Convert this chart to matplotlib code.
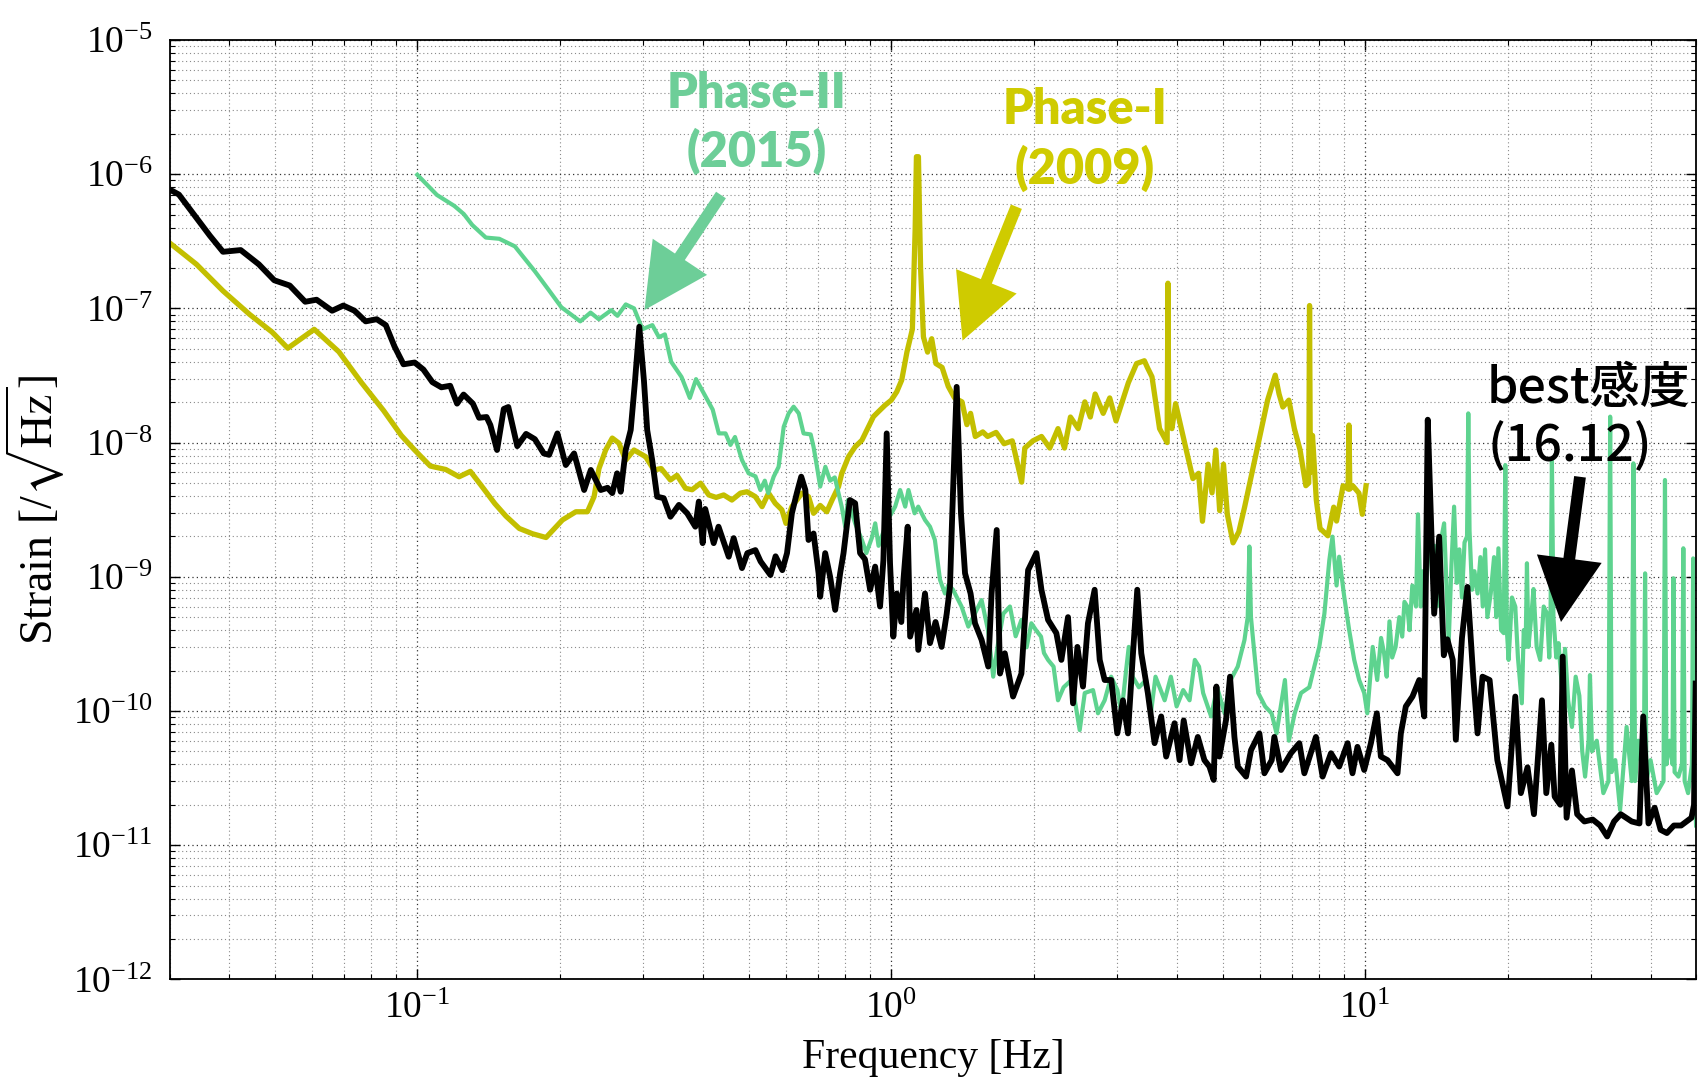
import matplotlib
matplotlib.use('Agg')
import matplotlib.pyplot as plt
from matplotlib.patches import FancyArrowPatch
from matplotlib.ticker import LogLocator, NullFormatter

plt.rcParams['font.family'] = 'Liberation Serif'
plt.rcParams['mathtext.fontset'] = 'stix'
plt.rcParams['axes.unicode_minus'] = False

# best sensitivity (16.12)
best_freq = [
    0.030, 0.0314, 0.0342, 0.0365, 0.0389, 0.0424, 0.0463, 0.0499, 0.0538, 0.058,
    0.0613, 0.0661, 0.0698, 0.0737, 0.0778, 0.0821, 0.0858, 0.0895, 0.0935, 0.0987,
    0.103, 0.1076, 0.1124, 0.1173, 0.1213, 0.1252, 0.131, 0.135, 0.14, 0.1426,
    0.1473, 0.1522, 0.1556, 0.1625, 0.1696, 0.177, 0.1848, 0.1897, 0.1975, 0.2057,
    0.2142, 0.2249, 0.2323, 0.2438, 0.252, 0.2578, 0.264, 0.2686, 0.2752, 0.282,
    0.288, 0.294, 0.3007, 0.3055, 0.313, 0.3206, 0.331, 0.342, 0.3564, 0.371,
    0.386, 0.3926, 0.40, 0.405, 0.422, 0.432, 0.454, 0.465, 0.4842, 0.497,
    0.5168, 0.53, 0.556, 0.57, 0.589, 0.6026, 0.617, 0.632, 0.6457, 0.6587,
    0.669, 0.6855, 0.7025, 0.708, 0.7254, 0.743, 0.7615, 0.78, 0.793, 0.818,
    0.839, 0.8594, 0.88, 0.9024, 0.9247, 0.947, 0.9625, 0.978, 0.994, 1.01,
    1.027, 1.05, 1.061, 1.083, 1.096, 1.13, 1.14, 1.178, 1.207, 1.24,
    1.277, 1.309, 1.33, 1.345, 1.374, 1.403, 1.431, 1.47, 1.502, 1.551,
    1.602, 1.628, 1.669, 1.696, 1.736, 1.807, 1.882, 1.944, 2.024, 2.074,
    2.142, 2.23, 2.285, 2.36, 2.418, 2.47, 2.538, 2.6, 2.686, 2.753,
    2.82, 2.912, 2.998, 3.082, 3.158, 3.236, 3.304, 3.369, 3.478, 3.594,
    3.711, 3.802, 3.96, 4.058, 4.14, 4.292, 4.434, 4.578, 4.691, 4.79,
    4.853, 4.924, 5.086, 5.185, 5.297, 5.383, 5.605, 5.741, 5.98, 6.127,
    6.35, 6.43, 6.643, 6.97, 7.26, 7.44, 7.87, 8.13, 8.467, 8.813,
    9.18, 9.4, 9.63, 9.95, 10.28, 10.58, 10.79, 11.14, 11.7, 11.89,
    12.18, 12.58, 13.0, 13.32, 13.45, 13.55, 13.79, 13.98, 14.32, 14.65,
    14.9, 15.3, 15.53, 16.0, 16.43, 16.9, 17.26, 17.68, 18.3, 19.0,
    19.96, 20.73, 21.3, 22.0, 22.7, 23.6, 24.1, 24.7, 25.1, 25.8,
    26.1, 26.6, 27.3, 28.0, 29.0, 30.2, 31.3, 32.4, 33.5, 34.6,
    36.5, 37.9, 38.6, 39.6, 40.8, 42.0, 43.3, 44.8, 46.4, 48.8,
    49.4, 49.8,
]
best_strain = [
    7.7e-7, 7.05e-7, 4.72e-7, 3.48e-7, 2.64e-7, 2.72e-7, 2.13e-7, 1.62e-7, 1.48e-7, 1.12e-7,
    1.16e-7, 9.6e-8, 1.05e-7, 9.6e-8, 8.0e-8, 8.3e-8, 7.5e-8, 5.2e-8, 3.83e-8, 3.95e-8,
    3.5e-8, 2.82e-8, 2.58e-8, 2.65e-8, 1.95e-8, 2.28e-8, 1.95e-8, 1.53e-8, 1.55e-8, 1.35e-8,
    8.8e-9, 1.78e-8, 1.84e-8, 9.4e-9, 1.16e-8, 1.06e-8, 8.3e-9, 8.1e-9, 1.17e-8, 6.8e-9,
    8.3e-9, 4.43e-9, 6.25e-9, 4.43e-9, 4.6e-9, 4.2e-9, 5.9e-9, 4.3e-9, 8.8e-9, 1.24e-8,
    2.9e-8, 7.3e-8, 2.9e-8, 1.24e-8, 7.4e-9, 3.95e-9, 3.85e-9, 2.8e-9, 3.43e-9, 2.97e-9,
    2.36e-9, 3.63e-9, 1.78e-9, 3.2e-9, 1.78e-9, 2.36e-9, 1.41e-9, 1.94e-9, 1.16e-9, 1.5e-9,
    1.58e-9, 1.3e-9, 1.03e-9, 1.42e-9, 1.12e-9, 1.5e-9, 2.97e-9, 4.2e-9, 5.57e-9, 4.43e-9,
    1.88e-9, 2.1e-9, 1.06e-9, 7.1e-10, 1.5e-9, 1.0e-9, 5.66e-10, 1.06e-9, 1.5e-9, 3.73e-9,
    3.53e-9, 1.5e-9, 1.35e-9, 8.0e-10, 1.19e-9, 6.0e-10, 1.33e-9, 1.17e-8, 1.26e-9, 3.58e-10,
    7.5e-10, 4.6e-10, 9.5e-10, 2.36e-9, 3.58e-10, 5.66e-10, 2.85e-10, 7.5e-10, 3.2e-10, 4.6e-10,
    3.0e-10, 5.3e-10, 8.4e-10, 2.97e-9, 2.6e-8, 2.97e-9, 1.06e-9, 7.5e-10, 4.5e-10, 3.38e-10,
    2.14e-10, 7.5e-10, 2.23e-9, 1.9e-10, 2.69e-10, 1.28e-10, 1.9e-10, 1.12e-9, 1.5e-9, 8.0e-10,
    4.77e-10, 3.8e-10, 2.4e-10, 5.0e-10, 1.14e-10, 3.0e-10, 1.52e-10, 4.5e-10, 8.0e-10, 2.4e-10,
    1.7e-10, 1.7e-10, 6.8e-11, 1.2e-10, 6.8e-11, 2.69e-10, 8.0e-10, 2.69e-10, 1.36e-10, 5.75e-11,
    9.1e-11, 4.57e-11, 8.1e-11, 4.3e-11, 8.5e-11, 4.07e-11, 6.4e-11, 4.3e-11, 3.85e-11, 3.06e-11,
    1.52e-10, 4.57e-11, 8.6e-11, 1.8e-10, 6.4e-11, 3.85e-11, 3.24e-11, 5.1e-11, 6.8e-11, 3.43e-11,
    4.3e-11, 6.4e-11, 3.63e-11, 4.84e-11, 5.75e-11, 3.43e-11, 6.4e-11, 3.24e-11, 4.84e-11, 3.85e-11,
    5.75e-11, 3.43e-11, 5.4e-11, 3.63e-11, 5.75e-11, 9.6e-11, 4.57e-11, 4.3e-11, 3.43e-11, 6.8e-11,
    1.08e-10, 1.28e-10, 1.7e-10, 9.1e-11, 1.7e-9, 1.48e-8, 2.16e-9, 5.3e-10, 1.99e-9, 2.6e-10,
    3.42e-10, 2.4e-10, 6.1e-11, 3.5e-10, 8.4e-10, 1.8e-10, 6.8e-11, 1.8e-10, 1.7e-10, 4.3e-11,
    1.94e-11, 1.28e-10, 2.44e-11, 3.8e-11, 1.7e-11, 1.2e-10, 2.44e-11, 5.6e-11, 2.3e-11, 2.0e-11,
    2.54e-10, 1.6e-11, 3.6e-11, 1.7e-11, 1.5e-11, 1.55e-11, 1.4e-11, 1.16e-11, 1.5e-11, 1.7e-11,
    1.5e-11, 1.45e-11, 9.1e-11, 1.45e-11, 1.9e-11, 1.3e-11, 1.23e-11, 1.4e-11, 1.4e-11, 1.6e-11,
    2.0e-11, 1.6e-10,
]

# Phase-I (2009)
phase1_freq = [
    0.03, 0.0342, 0.0389, 0.0443, 0.0494, 0.0533, 0.0606, 0.0683, 0.0761, 0.0849,
    0.0925, 0.0987, 0.1065, 0.1148, 0.1225, 0.1294, 0.1365, 0.1457, 0.1538, 0.1641,
    0.1751, 0.1869, 0.2024, 0.216, 0.2285, 0.236, 0.2417, 0.2497, 0.2578, 0.2663,
    0.2752, 0.2865, 0.3032, 0.3156, 0.327, 0.342, 0.353, 0.368, 0.38, 0.396,
    0.412, 0.427, 0.443, 0.461, 0.4806, 0.496, 0.5168, 0.5338, 0.551, 0.569,
    0.5878, 0.5995, 0.617, 0.648, 0.669, 0.6855, 0.708, 0.731, 0.75, 0.774,
    0.7864, 0.8125, 0.839, 0.867, 0.895, 0.917, 0.9396, 0.9705, 1.0, 1.027,
    1.052, 1.079, 1.108, 1.123, 1.13, 1.141, 1.153, 1.169, 1.193, 1.217,
    1.242, 1.28, 1.319, 1.36, 1.41, 1.444, 1.47, 1.504, 1.56, 1.597,
    1.664, 1.73, 1.8, 1.884, 1.913, 1.99, 2.075, 2.16, 2.248, 2.32,
    2.388, 2.48, 2.561, 2.63, 2.693, 2.8, 2.89, 2.98, 3.07, 3.164,
    3.293, 3.42, 3.47, 3.549, 3.682, 3.787, 3.82, 3.835, 3.85, 3.91,
    3.98, 4.094, 4.208, 4.329, 4.45, 4.535, 4.662, 4.751, 4.84, 4.93,
    5.023, 5.117, 5.262, 5.411, 5.565, 5.776, 5.995, 6.223, 6.459, 6.58,
    6.702, 6.9, 7.088, 7.287, 7.494, 7.6, 7.63, 7.66, 7.74, 7.885,
    8.03, 8.34, 8.58, 8.7, 8.98, 9.2, 9.24, 9.28, 9.41, 9.7,
    9.86, 10.04,
]
phase1_strain = [
    3.08e-7, 2.13e-7, 1.35e-7, 9.0e-8, 6.65e-8, 5.05e-8, 6.98e-8, 4.75e-8, 2.82e-8, 1.73e-8,
    1.13e-8, 8.8e-9, 6.68e-9, 6.3e-9, 5.56e-9, 6.1e-9, 4.77e-9, 3.51e-9, 2.83e-9, 2.29e-9,
    2.09e-9, 1.96e-9, 2.65e-9, 3.05e-9, 3.05e-9, 3.95e-9, 6.4e-9, 8.8e-9, 1.08e-8, 9.9e-9,
    7.4e-9, 8.8e-9, 7.85e-9, 6.25e-9, 6.4e-9, 5.26e-9, 5.7e-9, 4.56e-9, 4.45e-9, 4.98e-9,
    4.07e-9, 3.9e-9, 4.07e-9, 3.73e-9, 4.2e-9, 4.3e-9, 3.95e-9, 3.33e-9, 4.2e-9, 3.53e-9,
    3.15e-9, 2.5e-9, 3.33e-9, 4.2e-9, 3.95e-9, 2.97e-9, 3.4e-9, 3.05e-9, 3.73e-9, 4.7e-9,
    5.9e-9, 7.85e-9, 9.3e-9, 1.04e-8, 1.31e-8, 1.56e-8, 1.7e-8, 1.9e-8, 2.07e-8, 2.39e-8,
    2.92e-8, 4.72e-8, 7.0e-8, 3.86e-7, 1.35e-6, 1.35e-6, 2.0e-7, 6.14e-8, 4.72e-8, 5.94e-8,
    3.88e-8, 3.63e-8, 2.62e-8, 2.15e-8, 2.01e-8, 1.36e-8, 1.65e-8, 1.11e-8, 1.2e-8, 1.11e-8,
    1.19e-8, 9.8e-9, 1.03e-8, 5.07e-9, 9.1e-9, 1.03e-8, 1.11e-8, 9.1e-9, 1.27e-8, 9.1e-9,
    1.55e-8, 1.27e-8, 2.01e-8, 1.55e-8, 2.3e-8, 1.65e-8, 2.15e-8, 1.45e-8, 2.01e-8, 2.79e-8,
    3.88e-8, 4.07e-8, 3.63e-8, 3.09e-8, 1.27e-8, 1.06e-8, 1.0e-8, 1.54e-7, 1.5e-8, 1.27e-8,
    1.95e-8, 1.27e-8, 8.3e-9, 5.39e-9, 5.9e-9, 2.59e-9, 6.9e-9, 4.22e-9, 8.8e-9, 3.11e-9,
    6.9e-9, 2.92e-9, 1.79e-9, 2.16e-9, 3.3e-9, 6.1e-9, 1.13e-8, 2.07e-8, 3.18e-8, 2.3e-8,
    1.84e-8, 2.07e-8, 1.27e-8, 8.8e-9, 4.77e-9, 5.0e-9, 1.05e-7, 6.0e-9, 1.13e-8, 3.73e-9,
    2.29e-9, 2.02e-9, 3.3e-9, 2.6e-9, 4.77e-9, 4.5e-9, 1.35e-8, 4.5e-9, 4.77e-9, 4.2e-9,
    2.92e-9, 4.77e-9,
]

# Phase-II (2015)
phase2_freq = [
    0.1, 0.11, 0.1197, 0.1253, 0.1306, 0.1395, 0.1489, 0.1606, 0.177, 0.1888,
    0.2013, 0.2207, 0.232, 0.2415, 0.2566, 0.2644, 0.2753, 0.2866, 0.2985, 0.3133,
    0.3234, 0.3329, 0.3432, 0.361, 0.3758, 0.3873, 0.4073, 0.42, 0.4326, 0.447,
    0.4578, 0.468, 0.4842, 0.5, 0.517, 0.5295, 0.541, 0.55, 0.5648, 0.5785,
    0.593, 0.6075, 0.6223, 0.638, 0.653, 0.676, 0.6855, 0.697, 0.708, 0.726,
    0.743, 0.76, 0.786, 0.7995, 0.81, 0.839, 0.867, 0.886, 0.91, 0.925,
    0.94, 0.98, 1.019, 1.044, 1.07, 1.087, 1.12, 1.14, 1.178, 1.207,
    1.236, 1.267, 1.298, 1.32, 1.35, 1.407, 1.454, 1.5, 1.551, 1.6,
    1.641, 1.68, 1.723, 1.78, 1.83, 1.882, 1.93, 1.975, 2.02, 2.07,
    2.1, 2.142, 2.2, 2.248, 2.31, 2.4, 2.498, 2.56, 2.665, 2.73,
    2.82, 2.91, 3.0, 3.06, 3.13, 3.17, 3.23, 3.33, 3.45, 3.53,
    3.61, 3.774, 3.89, 4.0, 4.13, 4.26, 4.37, 4.46, 4.55, 4.73,
    4.87, 5.05, 5.2, 5.383, 5.562, 5.65, 5.696, 5.74, 5.8, 5.947,
    6.15, 6.345, 6.5, 6.77, 6.9, 7.1, 7.32, 7.62, 7.81, 8.0,
    8.2, 8.4, 8.53, 8.7, 8.81, 9.03, 9.25, 9.48, 9.71, 9.95,
    10.1, 10.37, 10.6, 10.8, 10.96, 11.1, 11.25, 11.4, 11.59, 11.8,
    11.97, 12.1, 12.27, 12.4, 12.57, 12.8, 12.92, 13.1, 13.25, 13.4,
    13.6, 13.8, 14.0, 14.15, 14.3, 14.5, 14.67, 14.85, 15.0, 15.2,
    15.4, 15.6, 15.8, 16.0, 16.2, 16.4, 16.5, 16.6, 16.8, 17.0,
    17.26, 17.5, 17.7, 17.9, 18.1, 18.4, 18.7, 18.9, 19.1, 19.35,
    19.6, 19.75, 19.9, 20.07, 20.4, 20.73, 21.0, 21.4, 21.6, 21.8,
    21.94, 22.1, 22.4, 22.65, 23.0, 23.4, 23.8, 24.2, 24.45, 24.6,
    24.77, 24.95, 25.3, 25.58, 26.0, 26.4, 26.8, 27.3, 27.8, 28.3,
    28.7, 29.1, 29.6, 29.8, 30.1, 30.8, 31.8, 32.6, 32.87, 33.1,
    33.7, 34.5, 35.6, 36.5, 36.8, 37.1, 37.7, 38.7, 38.95, 39.2,
    40.0, 41.2, 42.6, 42.9, 43.2, 43.9, 44.5, 44.7, 44.95, 45.8,
    46.6, 46.9, 47.2, 48.0, 48.9, 49.2, 49.5, 49.9,
]
phase2_strain = [
    9.9e-7, 7.0e-7, 5.8e-7, 5.05e-7, 4.18e-7, 3.37e-7, 3.3e-7, 2.9e-7, 1.89e-7, 1.39e-7,
    1.02e-7, 8.0e-8, 9.3e-8, 8.3e-8, 9.7e-8, 8.8e-8, 1.07e-7, 1.0e-7, 7.0e-8, 7.5e-8,
    6.1e-8, 6.4e-8, 4.0e-8, 3.08e-8, 2.15e-8, 2.97e-8, 2.15e-8, 1.76e-8, 1.17e-8, 1.17e-8,
    9.6e-9, 1.1e-8, 7.4e-9, 5.9e-9, 5.6e-9, 4.43e-9, 5.2e-9, 4.2e-9, 5.57e-9, 6.6e-9,
    1.31e-8, 1.65e-8, 1.85e-8, 1.65e-8, 1.17e-8, 1.15e-8, 9.3e-9, 6.6e-9, 4.7e-9, 6.6e-9,
    5.2e-9, 5.5e-9, 3.33e-9, 2.36e-9, 3.73e-9, 2.5e-9, 1.88e-9, 1.5e-9, 1.95e-9, 2.5e-9,
    1.7e-9, 2.6e-9, 3.33e-9, 4.43e-9, 3.33e-9, 4.43e-9, 2.97e-9, 3.33e-9, 2.65e-9, 2.36e-9,
    1.88e-9, 9.5e-10, 7.5e-10, 8.7e-10, 8.0e-10, 6.0e-10, 4.25e-10, 5.3e-10, 6.7e-10, 4.0e-10,
    1.8e-10, 3.2e-10, 5.3e-10, 6.0e-10, 3.6e-10, 4.77e-10, 2.98e-10, 4.5e-10, 4.0e-10, 3.58e-10,
    2.7e-10, 2.4e-10, 2.14e-10, 1.2e-10, 1.5e-10, 1.7e-10, 7.2e-11, 1.36e-10, 1.43e-10, 9.6e-11,
    1.2e-10, 1.8e-10, 1.43e-10, 9.6e-11, 2.02e-10, 3.0e-10, 1.8e-10, 1.5e-10, 1.7e-10, 9.6e-11,
    1.8e-10, 1.2e-10, 1.8e-10, 1.08e-10, 1.43e-10, 1.2e-10, 2.4e-10, 2.14e-10, 1.36e-10, 9.1e-11,
    1.5e-10, 9.6e-11, 1.7e-10, 2.14e-10, 3.38e-10, 5.0e-10, 1.68e-9, 5.0e-10, 3.38e-10, 1.36e-10,
    1.08e-10, 9.6e-11, 6.8e-11, 1.7e-10, 6.0e-11, 9.6e-11, 1.36e-10, 1.5e-10, 2.14e-10, 3.0e-10,
    5.3e-10, 1.33e-9, 1.99e-9, 8.6e-10, 1.41e-9, 7.1e-10, 4.0e-10, 2.4e-10, 1.7e-10, 1.36e-10,
    9.6e-11, 3.0e-10, 1.7e-10, 3.5e-10, 2.69e-10, 1.8e-10, 4.65e-10, 2.5e-10, 3.0e-10, 5.0e-10,
    3.58e-10, 6.5e-10, 6.0e-10, 4.0e-10, 8.6e-10, 6.0e-10, 2.92e-9, 6.0e-10, 1.1e-9, 8.0e-10,
    1.5e-9, 1.4e-9, 1.7e-9, 6.0e-10, 7.6e-10, 2.0e-9, 2.5e-9, 8.0e-10, 3.2e-10, 1.2e-9,
    3.33e-9, 9.0e-10, 1.6e-9, 7.0e-10, 1.8e-9, 2.0e-9, 1.65e-8, 2.2e-9, 8.0e-10, 1.1e-9,
    7.5e-10, 1.4e-9, 6.0e-10, 1.6e-9, 5.0e-10, 7.5e-10, 1.4e-9, 5.0e-10, 1.63e-9, 4.0e-10,
    3.8e-10, 6.8e-9, 4.0e-10, 2.4e-10, 7.0e-10, 6.0e-10, 2.5e-10, 1.14e-10, 4.0e-10, 3.0e-10,
    1.26e-9, 3.0e-10, 5.0e-10, 8.1e-10, 3.0e-10, 2.4e-10, 6.0e-10, 5.3e-10, 2.5e-10, 5.0e-10,
    7.4e-9, 5.0e-10, 2.5e-10, 3.2e-10, 1.5e-10, 2.9e-10, 1.2e-10, 7.6e-11, 1.8e-10, 1.3e-10,
    5.0e-11, 3.24e-11, 6.0e-11, 1.85e-10, 5.0e-11, 6.0e-11, 2.44e-11, 3.0e-11, 1.56e-8, 3.5e-11,
    4.3e-11, 1.83e-11, 7.6e-11, 3.0e-11, 7.0e-9, 3.0e-11, 6.0e-11, 3.0e-11, 1.06e-9, 3.0e-11,
    4.3e-11, 2.44e-11, 3.0e-11, 5.26e-9, 4.0e-11, 6.0e-11, 4.0e-11, 9.75e-10, 3.5e-11, 3.24e-11,
    4.0e-11, 1.63e-9, 3.0e-11, 2.44e-11, 4.0e-11, 1.37e-9, 3.0e-11, 1.4e-11,
]

green = '#5ed38f'
green_txt = '#6dce98'
yellow = '#c3bf00'
yellow_txt = '#cfcb00'

W, H = 1702, 1083
fig = plt.figure(figsize=(W / 100, H / 100), dpi=100)
ax = fig.add_axes([169.5 / W, 1 - 979.3 / H, 1527 / W, 939.3 / H])

ax.loglog(phase1_freq, phase1_strain, color=yellow, lw=3.8)
ax.loglog(phase2_freq, phase2_strain, color=green, lw=3.0)
ax.loglog(best_freq, best_strain, color='black', lw=4.2)

ax.set_xlim(0.03, 50)
ax.set_ylim(1e-12, 1e-5)
ax.yaxis.set_major_locator(LogLocator(base=10, numticks=20))
ax.yaxis.set_minor_locator(LogLocator(base=10, subs=range(2, 10), numticks=100))
ax.xaxis.set_minor_locator(LogLocator(base=10, subs=range(2, 10), numticks=100))
ax.yaxis.set_minor_formatter(NullFormatter())
ax.xaxis.set_minor_formatter(NullFormatter())

ax.grid(True, which='major', ls=(0, (1, 2.5)), color='#333333', lw=0.9)
ax.grid(True, which='minor', ls=(0, (1, 2.5)), color='#8a8a8a', lw=0.8)
ax.tick_params(which='both', direction='in', top=True, right=True)
ax.tick_params(which='major', length=7, width=1, labelsize=27)
ax.tick_params(which='minor', length=3.5, width=0.8)
ax.tick_params(axis='y', pad=12)
ax.tick_params(axis='x', pad=9)
for s in ax.spines.values():
    s.set_linewidth(1.3)

ax.set_xlabel('Frequency [Hz]', fontsize=30, labelpad=9)
ax.set_ylabel(r'Strain [/$\sqrt{\mathrm{Hz}}$]', fontsize=33, labelpad=4)


def fp(x, y):
    # pixel position (from top-left) -> figure fraction
    return (x / W, 1 - y / H)


lab = dict(ha='center', va='center', fontsize=35, fontweight='heavy', family='Lato')
fig.text(*fp(757, 93), 'Phase-II', color=green_txt, **lab)
fig.text(*fp(757, 151), '(2015)', color=green_txt, **lab)
fig.text(*fp(1085, 110), 'Phase-I', color=yellow_txt, **lab)
fig.text(*fp(1085, 168), '(2009)', color=yellow_txt, **lab)

cjk = dict(ha='left', va='center', fontsize=36, fontweight='medium',
           family=['Noto Sans CJK JP', 'DejaVu Sans'])
fig.text(*fp(1487, 389), 'best感度', color='black', **cjk)
fig.text(*fp(1488, 447), '(16.12)', color='black', **cjk)

style = 'simple,head_length=46,head_width=47,tail_width=8.5'
for tail, tip, col in [((721, 195), (644.5, 310), green_txt),
                       ((1016.4, 206.7), (962.5, 340.6), yellow_txt),
                       ((1580, 476.8), (1561, 622), 'black')]:
    arr = FancyArrowPatch(fp(*tail), fp(*tip), transform=fig.transFigure,
                          arrowstyle=style, mutation_scale=1, color=col,
                          lw=0, shrinkA=0, shrinkB=0)
    fig.add_artist(arr)

fig.savefig('out.png', dpi=100)
